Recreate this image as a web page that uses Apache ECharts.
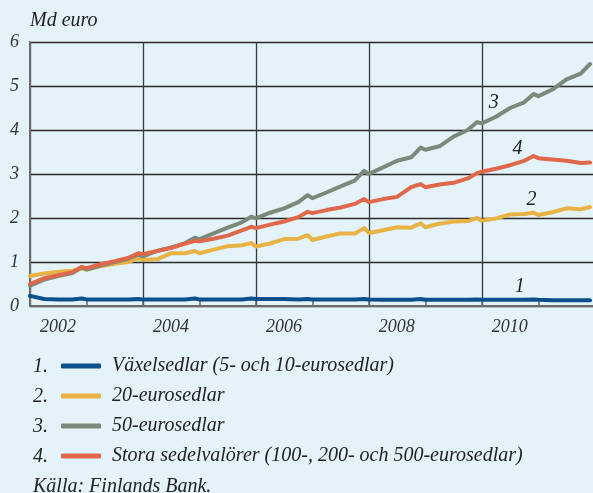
<!DOCTYPE html>
<html>
<head>
<meta charset="utf-8">
<script src="https://cdn.jsdelivr.net/npm/echarts@6/dist/echarts.min.js"></script>
<style>
    html, body { margin: 0; padding: 0; background: #e4f2fa; overflow: hidden; }
    /* diagrammet fortsätter förbi högerkanten, som i originalet */
    #chart { width: 613px; height: 493px; }
</style>
</head>
<body>
<div id="chart"></div>
<script>
// månader (kvartal + december)
var dates = [
    '2002-01','2002-04','2002-07','2002-10','2002-12',
    '2003-01','2003-04','2003-07','2003-10','2003-12',
    '2004-01','2004-04','2004-07','2004-10','2004-12',
    '2005-01','2005-04','2005-07','2005-10','2005-12',
    '2006-01','2006-04','2006-07','2006-10','2006-12',
    '2007-01','2007-04','2007-07','2007-10','2007-12',
    '2008-01','2008-04','2008-07','2008-10','2008-12',
    '2009-01','2009-04','2009-07','2009-10','2009-12',
    '2010-01','2010-04','2010-07','2010-10','2010-12',
    '2011-01','2011-04','2011-07','2011-10','2011-12'
];
// Md euro
var vaxelsedlar = [
    0.23,0.16,0.15,0.15,0.17, 0.15,0.15,0.15,0.15,0.16,
    0.15,0.15,0.15,0.15,0.17, 0.15,0.15,0.15,0.15,0.17,
    0.16,0.16,0.16,0.15,0.16, 0.15,0.15,0.15,0.15,0.16,
    0.15,0.14,0.14,0.14,0.16, 0.14,0.14,0.14,0.14,0.15,
    0.14,0.14,0.14,0.14,0.15, 0.14,0.13,0.13,0.13,0.13
];
var euro20 = [
    0.68,0.74,0.78,0.80,0.85, 0.83,0.90,0.96,1.00,1.08,
    1.05,1.06,1.20,1.20,1.25, 1.20,1.28,1.36,1.38,1.43,
    1.35,1.42,1.52,1.53,1.61, 1.50,1.58,1.65,1.65,1.77,
    1.66,1.72,1.79,1.78,1.88, 1.79,1.87,1.92,1.93,2.00,
    1.94,1.99,2.08,2.09,2.12, 2.07,2.13,2.22,2.20,2.25
];
var euro50 = [
    0.46,0.60,0.68,0.75,0.88, 0.83,0.92,1.00,1.08,1.17,
    1.13,1.25,1.33,1.43,1.55, 1.52,1.65,1.78,1.90,2.03,
    1.99,2.12,2.22,2.36,2.52, 2.45,2.58,2.72,2.85,3.07,
    3.00,3.15,3.30,3.38,3.60, 3.55,3.63,3.85,4.00,4.18,
    4.15,4.30,4.50,4.63,4.82, 4.77,4.92,5.15,5.28,5.50
];
var stora = [
    0.50,0.63,0.70,0.77,0.89, 0.86,0.95,1.02,1.10,1.20,
    1.18,1.25,1.32,1.42,1.48, 1.47,1.53,1.60,1.72,1.80,
    1.77,1.85,1.92,2.02,2.14, 2.11,2.18,2.24,2.32,2.43,
    2.36,2.43,2.48,2.70,2.77, 2.70,2.76,2.80,2.90,3.02,
    3.05,3.12,3.20,3.30,3.41, 3.36,3.33,3.30,3.25,3.26
];
var names = [
    'Växelsedlar (5- och 10-eurosedlar)',
    '20-eurosedlar',
    '50-eurosedlar',
    'Stora sedelvalörer (100-, 200- och 500-eurosedlar)'
];
var colors = ['#0d4e8c', '#e9b244', '#788b7a', '#e0684a'];
// siffror vid linjerna [år, värde]
var lineLabels = [[2010.67, 0.43], [2010.88, 2.41], [2010.21, 4.61], [2010.63, 3.57]];

var serif = '"Liberation Serif", "DejaVu Serif", serif';

function toYear(d) {
    var p = d.split('-');
    return Number(p[0]) + (Number(p[1]) - 1) / 12;
}

function makeSeries(i, values) {
    var data = [];
    for (var k = 0; k < dates.length; k++) {
        data.push([toYear(dates[k]), values[k]]);
    }
    return {
        name: names[i],
        type: 'line',
        data: data,
        symbol: 'none',
        color: colors[i],
        lineStyle: { width: 4, color: colors[i], cap: 'round', join: 'round' },
        markPoint: {
            symbol: 'circle',
            symbolSize: 0,
            label: {
                show: true,
                position: 'inside',
                formatter: String(i + 1),
                fontFamily: serif,
                fontStyle: 'italic',
                fontSize: 20,
                color: '#222'
            },
            data: [{ coord: lineLabels[i] }]
        }
    };
}

function note(txt, top) {
    return { type: 'text', left: 33, top: top, style: { text: txt, font: 'italic 20px ' + serif, fill: '#222' } };
}

var chart = echarts.init(document.getElementById('chart'));
var option = {
    backgroundColor: '#e4f2fa',
    animation: false,
    grid: { left: 30, right: 0, top: 42, bottom: 187, containLabel: false },
    xAxis: [{
        type: 'value',
        min: 2002,
        max: 2012.27,
        interval: 2,
        axisLine: { show: true, lineStyle: { color: '#6a6a6a', width: 2 } },
        axisTick: { show: false },
        axisLabel: { show: false },
        splitLine: { show: true, lineStyle: { color: '#3a3a3a', width: 1.3 } }
    }, {
        type: 'value',
        position: 'bottom',
        min: 2002,
        max: 2012.27,
        interval: 1,
        axisLine: { show: false },
        axisTick: { show: true, inside: true, length: 5, lineStyle: { color: '#6a6a6a', width: 1.5 } },
        splitLine: { show: false },
        axisLabel: {
            align: 'left',
            margin: 12,
            padding: [0, 0, 0, 10],
            fontFamily: serif,
            fontStyle: 'italic',
            fontSize: 18,
            color: '#333',
            formatter: function (v) {
                return (v % 2 === 0 && v < 2011) ? String(v) : '';
            }
        }
    }],
    yAxis: {
        type: 'value',
        min: 0,
        max: 6,
        interval: 1,
        axisLine: { show: true, lineStyle: { color: '#6a6a6a', width: 2 } },
        axisTick: { show: false },
        axisLabel: {
            margin: 11,
            fontFamily: serif,
            fontStyle: 'italic',
            fontSize: 18,
            color: '#333'
        },
        splitLine: { show: true, lineStyle: { color: '#2a2a2a', width: 1.3 } }
    },
    legend: {
        orient: 'vertical',
        left: 56,
        top: 346,
        icon: 'roundRect',
        itemWidth: 40,
        itemHeight: 5,
        itemGap: 0,
        data: names,
        textStyle: {
            fontFamily: serif,
            fontStyle: 'italic',
            fontSize: 20,
            lineHeight: 30,
            color: '#222',
            padding: [0, 0, 0, 6]
        }
    },
    graphic: [
        { type: 'text', left: 30, top: 11, style: { text: 'Md euro', font: 'italic 20px ' + serif, fill: '#222' } },
        note('1.', 357),
        note('2.', 387),
        note('3.', 417),
        note('4.', 447),
        note('Källa: Finlands Bank.', 477)
    ],
    series: [
        makeSeries(0, vaxelsedlar),
        makeSeries(1, euro20),
        makeSeries(2, euro50),
        makeSeries(3, stora)
    ]
};
chart.setOption(option, true);
</script>
</body>
</html>
